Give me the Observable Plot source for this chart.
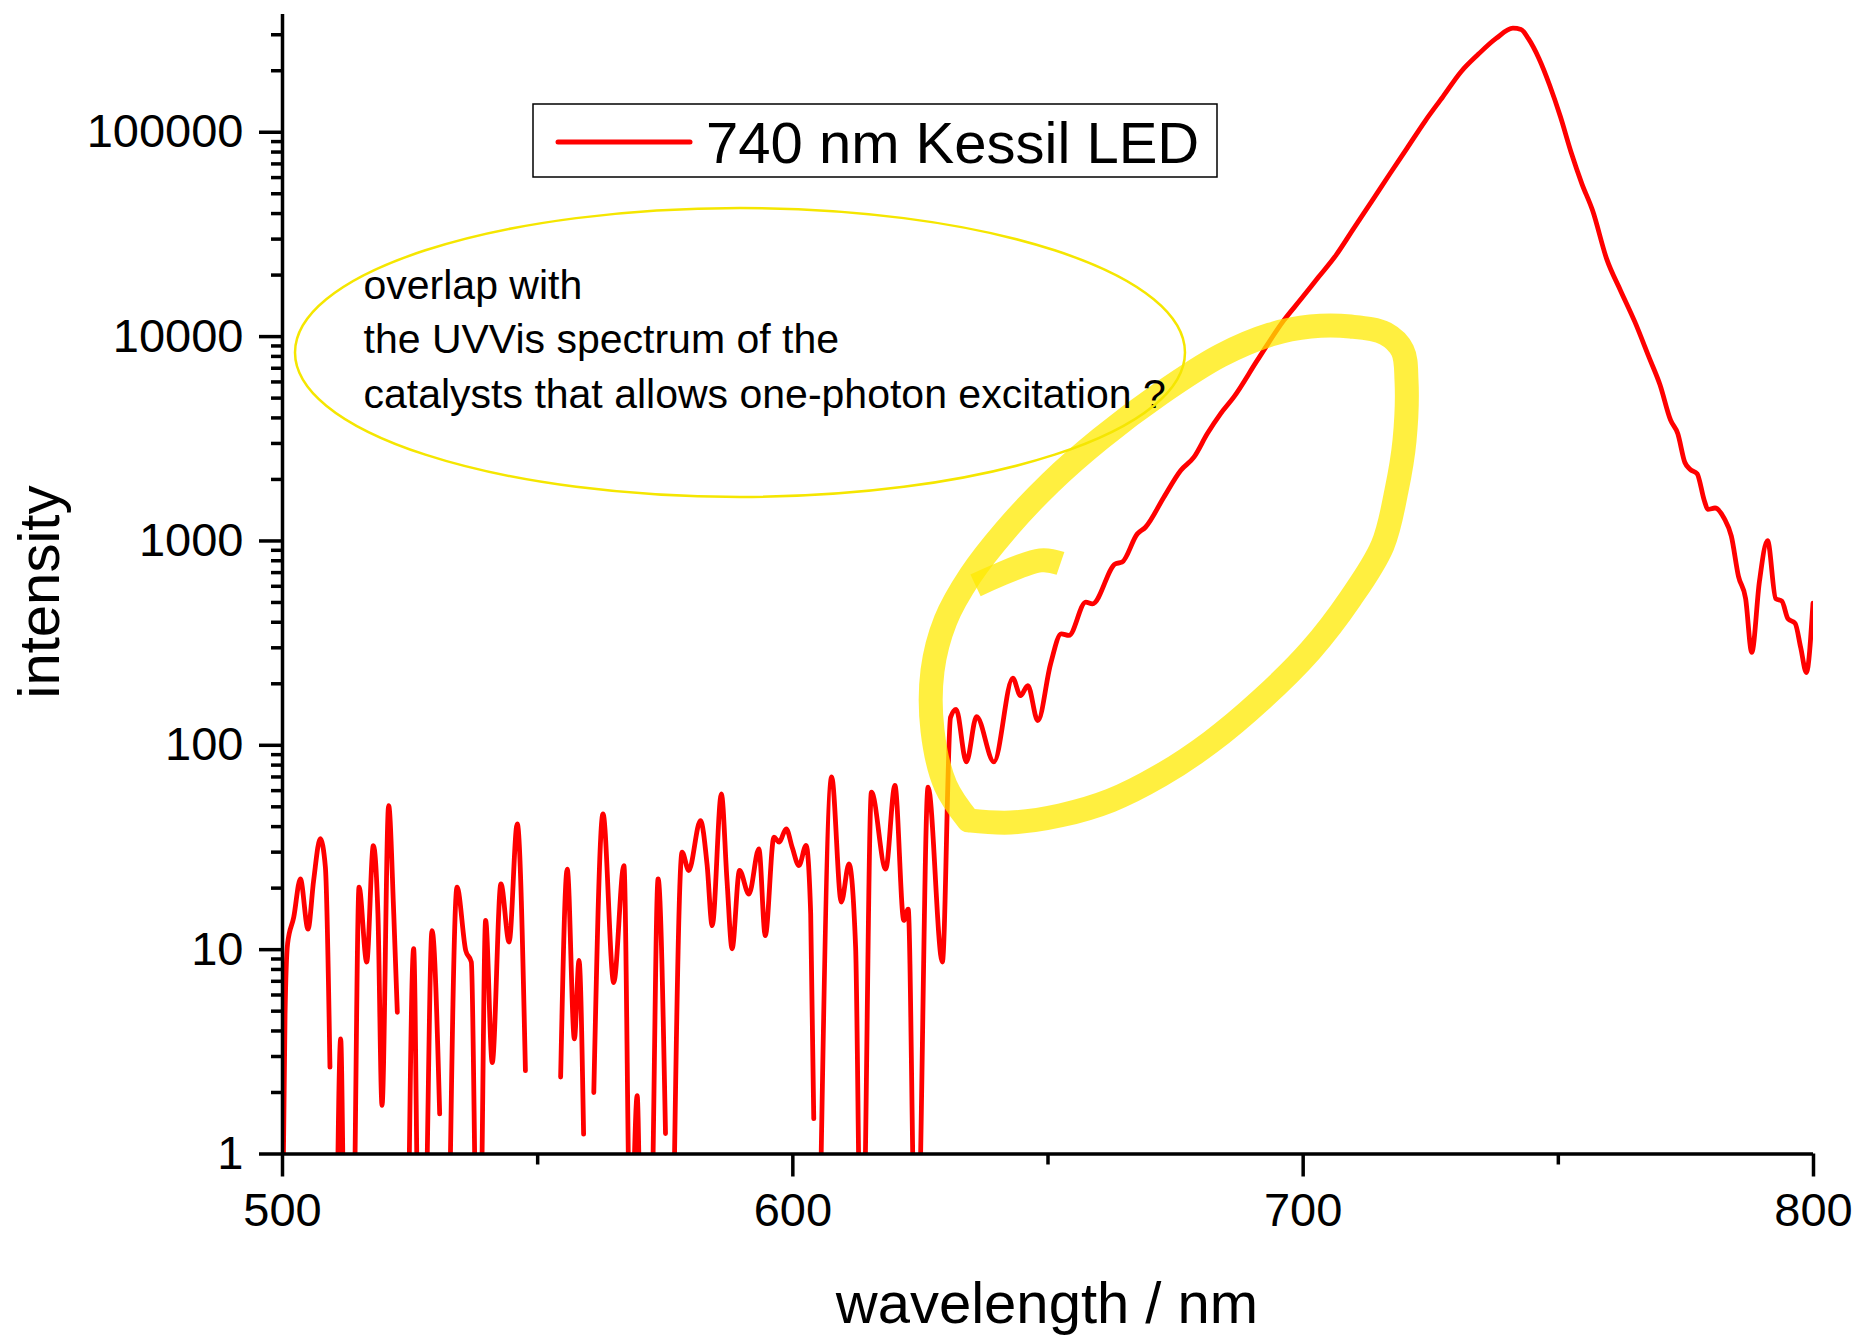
<!DOCTYPE html>
<html>
<head>
<meta charset="utf-8">
<script src="https://cdn.jsdelivr.net/npm/d3@7"></script>
<script src="https://cdn.jsdelivr.net/npm/@observablehq/plot@0.6"></script>
<style>
  html, body { margin: 0; padding: 0; background: #ffffff; }
  #chart svg { display: block; }
</style>
</head>
<body>
<div id="chart"></div>
<script>
// ---- spectrum data (wavelength in nm, intensity; null = gap where value <= 0) ----
const wavelengths = [
  500.0, 500.5, 501.0, 502.2, 503.5, 505.0, 506.1, 507.4, 508.4, 509.3, 509.9,
  510.6, 511.4, 512.2, 513.8, 515.0, 516.5, 517.8, 518.7, 519.5, 520.8, 521.8, 522.5, 523.5,
  524.6, 525.7, 526.7, 527.8, 529.3, 530.8, 531.7,
  532.6, 534.2, 535.9, 537.0, 538.1, 538.7, 539.8, 541.1, 542.8, 544.4, 546.0, 547.6, 551.0,
  554.5, 555.8, 557.2, 558.1, 559.0, 560.0,
  561.0, 562.8, 564.9, 566.9, 568.2, 569.5, 570.3, 572.1, 573.6, 575.05, 575.8,
  576.5, 578.3, 579.6, 581.9, 583.2, 584.2, 586.0, 587.1, 588.1, 589.55, 591.4, 593.35, 594.6,
  596.3, 597.3, 598.7, 599.9, 601.2, 602.6, 603.5, 604.1, 604.7,
  605.2, 607.6, 609.5, 611.0, 612.3, 613.3, 613.7, 615.4, 618.2, 620.0, 621.75, 622.6, 624.0, 624.4,
  626.5, 629.3, 630.9, 632.0, 634.0, 636.0, 639.4, 643.1, 644.6, 646.05, 648.0, 650.5, 652.6, 654.1,
  657.4, 658.7, 663.2, 664.5, 667.5, 669.1, 672.7, 676.0, 678.6, 681.2, 683.8, 686.4, 691.0, 696.2,
  699.5, 702.97, 706.45, 709.94, 713.43, 716.9, 720.4, 723.9, 727.4, 730.9, 734.35, 737.8, 741.1,
  742.7, 744.1, 746.2, 748.3, 750.4, 752.5, 754.6, 756.7, 759.5, 762.2, 765.0, 767.8, 769.9, 772.0,
  773.4, 774.8, 775.8, 777.2, 778.6, 779.3, 780.7, 782.5, 783.9, 785.3, 786.7, 787.9, 789.4, 791.0,
  792.6, 793.8, 795.0, 796.4, 797.5, 798.6, 799.9
];
const intensities = [
  0.4, 4.8, 10.7, 14.4, 22.2, 12.6, 21.8, 34.9, 25.4, 2.66, null,
  0.3, 3.66, 0.3, 0.3, 20.2, 8.7, 32.3, 15, 1.73, 50.7, 15, 4.94, null,
  0.3, 10.1, 0.3, 0.3, 12.4, 1.57, null,
  0.3, 20.2, 9.9, 8.7, 0.3, 0.3, 13.9, 2.8, 21, 10.9, 41.3, 2.56, null,
  2.38, 24.8, 3.66, 8.85, 1.25, null,
  2.0, 46.2, 6.9, 25.8, 0.3, 1.93, 0.3, 0.3, 22.2, 1.26, null,
  0.3, 30, 24.4, 42.8, 26, 13.1, 57.8, 21.8, 10.1, 24.4, 18.7, 31.1, 11.7,
  35.5, 33.6, 39, 31.5, 25.8, 32.4, 15, 1.49, null,
  0.3, 70, 17.1, 26.3, 10.3, 0.3, 0.3, 59, 24.8, 63.6, 13.9, 15.8, 0.3, 0.3,
  62.4, 8.7, 137, 150, 83, 138, 83, 213, 175, 196, 132, 250, 351, 345,
  502, 492, 773, 787, 1083, 1167, 1637, 2213, 2570, 3344, 4190, 5056, 7645, 12000,
  15170, 19500, 25060, 33960, 45920, 62100, 83900, 113500, 149500, 197300, 241200, 287800, 323000,
  318400, 287800, 229600, 169800, 119300, 79800, 56100, 41500, 23870, 16780, 11800, 7890, 5830, 3900,
  3357, 2420, 2244, 2134, 1577, 1427, 1450, 1289, 1055, 671, 522, 285, 632, 1003,
  522, 508, 416, 395, 300, 227, 496
];

// ---- axis ticks ----
const xMajorTicks = [500, 600, 700, 800];
const xMinorTicks = [550, 650, 750];
const yMajorTicks = [1, 10, 100, 1000, 10000, 100000];
const yMinorTicks = [2, 3, 4, 5, 6, 7, 8, 9,
  20, 30, 40, 50, 60, 70, 80, 90,
  200, 300, 400, 500, 600, 700, 800, 900,
  2000, 3000, 4000, 5000, 6000, 7000, 8000, 9000,
  20000, 30000, 40000, 50000, 60000, 70000, 80000, 90000,
  200000, 300000];

// ---- text ----
const seriesName = "740 nm Kessil LED";
const xLabel = "wavelength / nm";
const yLabel = "intensity";
const noteLines = ["overlap with", "the UVVis spectrum of the", "catalysts that allows one-photon excitation ?"];
const noteNm = [515.87, 515.87, 515.87];
const noteIntensity = [15196, 8271, 4498];

// ---- hand-drawn highlighter annotation (in data space: nm, intensity) ----
const loopNm = [634.42, 642.65, 652.45, 662.25, 672.05, 681.84, 691.64, 701.44, 709.28, 715.55, 718.29, 719.86,
  720.25, 719.47, 716.13, 709.28, 701.44, 693.6, 683.8, 672.05, 660.29, 650.49, 641.67, 634.81, 629.92,
  627.37, 627.37, 629.92, 634.42];
const loopIntensity = [42.9, 41.9, 45.4, 53.7, 71.2, 103.5, 165.8, 291, 523, 950, 1766, 3102,
  6100, 8550, 10350, 11200, 11200, 10230, 8070, 5260, 3170, 1932, 1127, 678, 408,
  232, 118, 63.6, 42.9];
const hookNm = [635.8, 648.53, 652.45];
const hookIntensity = [606, 803, 776];
// thin ellipse bounding box (data space)
const ellipseNm = [502.55, 676.94];
const ellipseIntensity = [1632, 42360];

const spectrum = wavelengths.map((nm, i) => ({nm, I: intensities[i] == null ? NaN : intensities[i]}));
const loop = loopNm.map((nm, i) => ({nm, I: loopIntensity[i]}));
const hook = hookNm.map((nm, i) => ({nm, I: hookIntensity[i]}));
const notes = noteLines.map((t, i) => ({t, nm: noteNm[i], I: noteIntensity[i]}));

const FONT = "'Liberation Sans', Arial, Helvetica, sans-serif";
const AXW = 3.5;

const chart = Plot.plot({
  width: 1858,
  height: 1336,
  marginLeft: 282,
  marginRight: 45,
  marginTop: 14,
  marginBottom: 182.5,
  style: {fontFamily: FONT, background: "#ffffff", color: "#000000", overflow: "visible"},
  x: {domain: [500, 800], label: null},
  y: {type: "log", domain: [1, 376900], label: null},
  marks: [
    Plot.line(spectrum, {x: "nm", y: "I", stroke: "#ff0000", strokeWidth: 4.8, curve: "monotone-x", clip: true,
      strokeLinejoin: "round", strokeLinecap: "round"}),
    Plot.line(loop, {x: "nm", y: "I", stroke: "#ffea00", strokeOpacity: 0.75, strokeWidth: 24, curve: "catmull-rom",
      strokeLinejoin: "round", strokeLinecap: "round"}),
    Plot.line(hook, {x: "nm", y: "I", stroke: "#ffea00", strokeOpacity: 0.75, strokeWidth: 24, curve: "catmull-rom",
      strokeLinejoin: "round", strokeLinecap: "butt"}),
    Plot.ruleX([500], {stroke: "#000", strokeWidth: AXW}),
    Plot.ruleY([1], {stroke: "#000", strokeWidth: AXW}),
    Plot.axisY(yMajorTicks, {anchor: "left", tickSize: 23, tickPadding: 16, fontSize: 47, strokeWidth: AXW,
      tickFormat: d => String(d), label: null}),
    Plot.axisY(yMinorTicks, {anchor: "left", tickSize: 11, strokeWidth: AXW, tickFormat: () => "", label: null}),
    Plot.axisX(xMajorTicks, {anchor: "bottom", tickSize: 23, tickPadding: 16, fontSize: 47, strokeWidth: AXW,
      tickFormat: d => String(d), label: null}),
    Plot.axisX(xMinorTicks, {anchor: "bottom", tickSize: 11, strokeWidth: AXW, tickFormat: () => "", label: null}),
    Plot.text(notes, {x: "nm", y: "I", text: "t", textAnchor: "start", lineAnchor: "bottom", fontSize: 41, fill: "#000"})
  ]
});

const svg = d3.select(chart);
const xs = chart.scale("x"), ys = chart.scale("y");

// thin yellow ellipse
const ex0 = xs.apply(ellipseNm[0]), ex1 = xs.apply(ellipseNm[1]);
const ey0 = ys.apply(ellipseIntensity[1]), ey1 = ys.apply(ellipseIntensity[0]);
svg.append("ellipse")
  .attr("cx", (ex0 + ex1) / 2).attr("cy", (ey0 + ey1) / 2)
  .attr("rx", (ex1 - ex0) / 2).attr("ry", (ey1 - ey0) / 2)
  .attr("fill", "none").attr("stroke", "#f5e600").attr("stroke-width", 2.5);

// legend box
const lg = svg.append("g").attr("text-anchor", "start");
lg.append("rect").attr("x", 533).attr("y", 104).attr("width", 684).attr("height", 73)
  .attr("fill", "#ffffff").attr("stroke", "#000").attr("stroke-width", 1.5);
lg.append("line").attr("x1", 558).attr("x2", 690).attr("y1", 142).attr("y2", 142)
  .attr("stroke", "#ff0000").attr("stroke-width", 5).attr("stroke-linecap", "round");
lg.append("text").attr("x", 706).attr("y", 162.5).attr("font-size", 58).attr("font-family", FONT)
  .attr("text-anchor", "start").attr("fill", "#000").text(seriesName);

// axis titles
svg.append("text").attr("x", 1047).attr("y", 1323).attr("text-anchor", "middle")
  .attr("font-size", 58).attr("font-family", FONT).attr("fill", "#000").text(xLabel);
svg.append("text").attr("transform", "translate(59,592) rotate(-90)").attr("text-anchor", "middle")
  .attr("font-size", 58).attr("font-family", FONT).attr("fill", "#000").text(yLabel);

document.getElementById("chart").appendChild(chart);
</script>
</body>
</html>
